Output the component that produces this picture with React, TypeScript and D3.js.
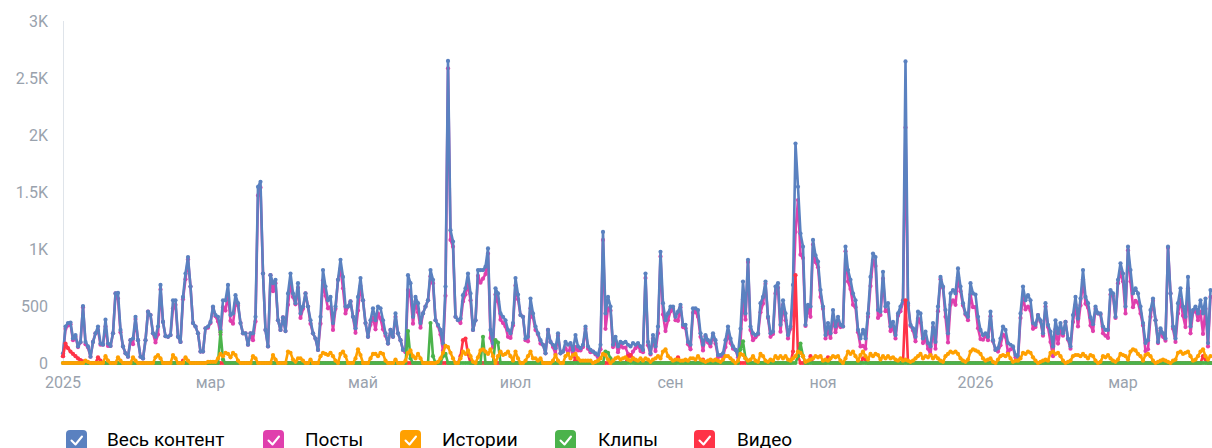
import React from 'react';
import * as d3 from 'd3';

const START = Date.UTC(2025, 0, 1);
const DAY = 86400000;

const total = [
  85,320,350,355,215,245,145,185,500,185,
  145,55,185,260,320,170,160,380,170,150,
  260,610,615,290,145,85,55,200,215,405,
  200,55,40,200,450,420,260,230,320,685,
  360,235,230,245,550,550,230,185,580,785,
  930,670,350,320,260,100,100,305,320,360,
  495,420,405,290,550,550,685,420,435,595,
  525,350,260,260,160,260,260,405,1545,1590,
  785,290,145,770,700,730,375,290,400,280,
  610,785,610,525,700,435,495,610,495,375,
  260,215,115,405,815,670,550,580,350,495,
  730,905,755,495,495,540,405,305,580,745,
  550,350,230,375,480,375,495,480,375,260,
  170,290,230,435,260,200,115,115,770,700,
  405,580,525,350,435,495,550,815,730,375,
  335,290,170,670,2650,1165,1065,405,375,390,
  595,655,785,610,290,375,815,815,815,845,
  1005,290,170,655,610,435,405,375,290,260,
  350,745,600,420,405,215,230,565,435,320,
  260,200,160,85,290,185,160,130,260,85,
  100,185,160,175,115,245,145,130,160,320,
  145,115,100,85,70,160,1150,435,580,495,
  160,230,145,185,175,185,160,145,175,160,
  175,145,115,785,185,85,245,145,320,975,
  525,375,435,495,495,405,450,510,335,335,
  185,160,480,480,465,260,160,245,200,175,
  260,200,70,70,85,200,320,215,145,115,
  70,300,715,435,905,320,260,245,260,525,
  580,715,405,260,275,670,700,335,550,435,
  245,320,685,1925,1545,1135,1020,335,510,495,
  1080,945,890,640,495,245,350,260,465,320,
  405,335,320,1020,815,730,610,550,290,215,
  290,215,435,755,960,930,465,450,800,495,
  525,320,360,245,435,495,550,2645,525,335,
  305,230,450,435,215,275,175,145,350,185,
  495,755,670,465,260,610,640,610,830,670,
  525,435,405,700,610,600,405,290,245,260,
  230,450,200,115,130,215,320,290,175,160,
  145,70,55,435,670,550,595,550,350,335,
  420,375,260,525,335,275,145,375,260,350,
  260,360,215,145,420,580,390,565,815,580,
  525,400,340,495,435,435,320,290,290,640,
  610,405,730,875,785,495,1020,815,610,655,
  610,495,350,175,200,465,565,375,185,305,
  260,215,1020,610,320,215,525,655,495,405,
  755,320,465,495,435,550,435,565,175,640,
];

const posts = [
  60,300,330,340,200,230,140,180,490,165,
  135,55,185,260,290,160,160,320,150,150,
  260,610,565,270,145,85,55,200,165,385,
  200,55,40,200,450,420,260,180,250,645,
  360,235,230,245,480,510,230,185,560,735,
  910,670,350,320,260,100,100,305,310,350,
  485,410,365,250,490,460,605,370,345,525,
  505,350,260,260,160,260,200,365,1470,1540,
  785,290,145,770,630,700,375,290,400,280,
  510,695,580,515,660,395,475,610,495,345,
  260,215,115,345,725,590,480,490,290,475,
  730,825,655,435,495,540,405,265,460,675,
  550,350,230,335,400,295,435,390,295,240,
  170,290,230,405,260,200,115,95,640,590,
  345,540,445,310,435,495,550,760,700,375,
  325,250,110,590,2585,1080,1020,405,375,350,
  540,600,700,550,290,375,765,705,740,780,
  960,220,140,600,540,380,350,320,230,220,
  330,680,560,420,405,200,190,480,400,290,
  250,170,160,85,290,185,140,80,240,85,
  100,130,90,140,60,140,110,110,140,300,
  125,95,100,75,50,120,1080,300,480,460,
  140,190,95,155,135,135,80,60,100,130,
  155,105,95,745,155,75,215,105,260,935,
  425,280,375,455,475,375,370,490,315,305,
  165,120,440,450,405,230,110,235,180,145,
  240,170,50,60,55,140,260,175,125,115,
  50,180,560,380,885,290,200,225,250,445,
  520,695,395,230,255,610,660,275,510,375,
  215,300,545,1150,1430,950,920,325,490,405,
  1040,885,840,580,475,215,280,220,405,270,
  345,315,320,980,715,650,510,490,270,145,
  150,125,405,675,900,850,395,420,740,455,
  465,280,310,215,415,455,530,2065,505,325,
  285,190,390,355,175,215,125,75,310,125,
  455,735,660,405,180,510,550,510,750,630,
  505,425,375,600,490,490,305,210,205,240,
  200,410,190,115,100,155,250,230,95,120,
  135,50,35,395,580,470,495,460,300,315,
  420,365,240,495,315,185,60,295,170,290,
  240,360,205,125,360,510,320,505,735,520,
  485,330,280,475,435,425,260,240,220,600,
  590,395,700,795,715,435,990,715,490,545,
  530,435,330,105,120,405,545,375,175,285,
  230,195,1010,610,300,185,435,555,415,315,
  655,260,445,465,375,450,255,475,145,580,
];

const stories = [
  0,0,0,0,0,0,0,0,0,20,
  10,0,0,0,0,0,0,60,20,0,
  0,0,50,20,0,0,0,0,50,20,
  0,0,0,0,0,0,0,50,70,40,
  0,0,0,0,70,40,0,0,0,50,
  20,0,0,0,0,0,0,0,10,10,
  10,10,40,80,60,90,80,50,90,70,
  20,0,0,0,0,0,60,40,0,0,
  0,0,0,0,70,30,0,0,0,0,
  100,90,30,10,40,40,20,0,0,30,
  0,0,0,60,90,80,70,90,60,20,
  0,80,100,60,0,0,0,40,120,70,
  0,0,0,40,80,80,60,90,80,20,
  0,0,0,30,0,0,0,20,90,110,
  60,40,80,40,0,0,0,0,0,0,
  10,40,90,150,140,90,40,0,0,40,
  100,80,110,60,10,0,50,110,120,100,
  80,120,60,0,60,100,70,80,100,60,
  20,100,40,0,0,20,60,100,40,40,
  20,40,0,0,0,0,20,70,20,0,
  0,60,80,40,70,80,40,20,20,20,
  20,20,0,10,20,40,80,70,30,0,
  20,40,50,30,40,50,30,20,40,30,
  20,40,20,40,30,10,30,40,60,40,
  100,120,60,40,20,30,30,20,20,30,
  20,40,40,30,60,30,20,10,20,30,
  20,30,20,10,30,60,60,40,20,0,
  20,80,70,40,20,30,60,20,10,80,
  60,20,10,30,20,60,40,60,40,60,
  30,20,40,60,100,90,60,10,20,30,
  40,60,50,60,20,30,20,40,60,50,
  60,20,0,40,100,80,100,60,20,70,
  100,60,30,80,60,80,70,30,60,40,
  60,40,50,30,20,40,20,30,20,10,
  20,40,60,80,40,60,50,70,40,60,
  40,20,10,60,80,100,90,100,80,40,
  20,10,30,100,120,110,100,80,40,20,
  30,40,10,0,30,60,70,60,80,40,
  10,20,20,40,90,80,100,90,50,20,
  0,10,20,30,20,90,100,80,90,60,
  20,0,10,20,60,70,70,60,80,60,
  40,70,60,20,0,10,60,50,70,40,
  20,10,30,80,70,60,30,100,120,110,
  80,60,20,70,80,60,20,0,10,20,
  30,20,10,0,20,30,90,100,80,90,
  100,60,20,30,60,100,120,60,30,60,
];

// non-zero days only: [day index, value]
const clipsNonZero: [number, number][] = [
  [63, 270], [64, 30], [138, 280], [139, 40], [147, 350], [148, 60],
  [152, 60], [153, 80], [168, 230], [173, 200], [174, 180],
  [217, 100], [218, 90], [219, 40], [271, 120], [272, 190], [273, 40],
  [294, 60], [295, 170], [296, 60],
];

const videoNonZero: [number, number][] = [
  [0, 60], [1, 170], [2, 130], [3, 100], [4, 80], [5, 60], [6, 40], [7, 25],
  [8, 15], [9, 10], [14, 50], [15, 20], [48, 20], [159, 60], [160, 200],
  [161, 215], [162, 80], [205, 40], [226, 60], [227, 70], [228, 40],
  [246, 50], [256, 30], [292, 100], [293, 770], [294, 60], [299, 60],
  [306, 50], [320, 40], [321, 30], [337, 550], [456, 60], [457, 30],
];

const yTicks = [0, 500, 1000, 1500, 2000, 2500, 3000];
const yTickLabels = ['0', '500', '1K', '1.5K', '2K', '2.5K', '3K'];
const xTickDates = ['2025-01-01', '2025-03-01', '2025-05-01', '2025-07-01', '2025-09-01', '2025-11-01', '2026-01-01', '2026-03-01'];
const xTickLabels = ['2025', 'мар', 'май', 'июл', 'сен', 'ноя', '2026', 'мар'];

const seriesNames = ['Весь контент', 'Посты', 'Истории', 'Клипы', 'Видео'];
const seriesColors = ['#5a81c0', '#e03fad', '#ffa000', '#4bb34b', '#ff3347'];

export default function App() {
  const W = 1212;
  const H = 448;
  const n = total.length;
  const dates = d3.range(n).map((i) => new Date(START + i * DAY));
  const x = d3.scaleUtc().domain([dates[0], dates[n - 1]]).range([63, 1210.5]);
  const y = d3.scaleLinear().domain([0, 3000]).range([363, 21]);

  const expand = (pairs: [number, number][]) => {
    const arr = new Array(n).fill(0);
    pairs.forEach(([d, v]) => { arr[d] = v; });
    return arr;
  };
  const clips = expand(clipsNonZero);
  const video = expand(videoNonZero);
  const seriesValues = [total, posts, stories, clips, video];

  const line = d3.line<number>().x((_, i) => x(dates[i])).y((v) => y(v));
  const drawOrder = [1, 0, 4, 3, 2];

  const legendBoxX = [66, 263, 400, 555, 694];
  const legendTextX = [107, 305, 442, 598, 737];

  return (
    <div style={{ position: 'absolute', left: 0, top: 0 }}>
      <svg width={W} height={H} style={{ display: 'block', fontFamily: 'Roboto, sans-serif' }}>
        <rect width={W} height={H} fill="#fff" />
        <line x1={63.5} x2={63.5} y1={21} y2={363} stroke="#dfe4ea" strokeWidth={1} />
        {yTicks.map((t, i) => (
          <text key={'y' + i} x={48} y={y(t) + 6} textAnchor="end" fontSize={16} fill="#99a2ad">
            {yTickLabels[i]}
          </text>
        ))}
        {xTickDates.map((d, i) => (
          <text key={'x' + i} x={x(new Date(d + 'T00:00:00Z'))} y={388} textAnchor="middle" fontSize={16} fill="#99a2ad">
            {xTickLabels[i]}
          </text>
        ))}
        {drawOrder.map((s) => (
          <g key={'s' + s}>
            <path d={line(seriesValues[s]) || ''} fill="none" stroke={seriesColors[s]} strokeWidth={2.6} strokeLinejoin="round" />
            {seriesValues[s].map((v, i) => (
              <circle key={i} cx={x(dates[i])} cy={y(v)} r={2.1} fill={seriesColors[s]} />
            ))}
          </g>
        ))}
        {seriesNames.map((name, i) => (
          <g key={'l' + i}>
            <rect x={legendBoxX[i]} y={430} width={21} height={21} rx={4} fill={seriesColors[i]} />
            <path
              d={`M${legendBoxX[i] + 5.5},${440.5} l4,4 l6.5,-8`}
              fill="none"
              stroke="#fff"
              strokeWidth={2}
              strokeLinecap="round"
              strokeLinejoin="round"
            />
            <text x={legendTextX[i]} y={446} fontSize={19} fill="#000">
              {name}
            </text>
          </g>
        ))}
      </svg>
    </div>
  );
}
